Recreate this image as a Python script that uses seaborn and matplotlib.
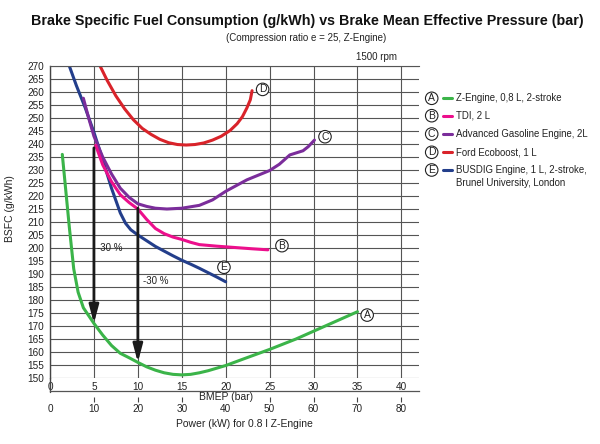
import numpy as np
import pandas as pd
import matplotlib
matplotlib.use("Agg")
import matplotlib.pyplot as plt
import seaborn as sns
from matplotlib.lines import Line2D

# ---------------- data ----------------
bmep_A = [1.4, 1.8, 2.2, 2.7, 3.2, 3.8, 4.4, 5.0, 6.0, 7.0, 8.0, 9.0, 10.0, 11.0, 12.0, 13.0, 14.0,
          15.0, 16.0, 17.0, 18.0, 20.0, 22.0, 25.0, 28.0, 30.0, 32.0, 35.0]
bsfc_A = [236, 222, 208, 192, 183, 177, 174, 171, 166.5, 162.5, 159.5, 157.8, 156, 154.3, 153, 152,
          151.4, 151.2, 151.4, 152, 152.8, 154.8, 157.3, 161, 165, 168, 171, 175.5]

bmep_B = [5.2, 6.0, 7.0, 8.0, 9.0, 10.0, 11.0, 12.0, 13.0, 14.0, 15.0, 16.0, 17.0, 19.0, 21.0, 23.0, 24.8]
bsfc_B = [239.5, 232, 225.5, 220.5, 217.5, 215, 211, 207.5, 205.5, 204.2, 203.3, 202.2, 201.3,
          200.7, 200.2, 199.7, 199.3]

bmep_C = [3.8, 4.4, 5.0, 6.0, 7.0, 8.0, 9.0, 10.0, 11.0, 12.0, 13.3, 15.0, 17.0, 18.5, 20.0, 22.4,
          25.0, 26.1, 27.3, 28.8, 29.4, 30.1]
bsfc_C = [257.6, 250, 243, 235, 228.5, 223, 219.5, 217, 216, 215.3, 215, 215.3, 216.4, 218.5, 221.8,
          226.2, 229.8, 232.2, 235.8, 237.4, 239, 241.5]

bmep_D = [5.7, 6.5, 7.5, 8.5, 9.5, 10.5, 11.5, 12.5, 13.5, 14.5, 15.5, 16.5, 17.5, 18.5, 19.5, 20.5,
          21.3, 21.9, 22.4, 22.8, 23.0]
bsfc_D = [270, 264.5, 258.5, 253.5, 249.3, 246, 243.7, 241.8, 240.5, 239.8, 239.6, 239.8, 240.4,
          241.5, 243, 245.2, 247.8, 250.5, 253.8, 257, 260.5]

bmep_E = [2.2, 3.0, 4.0, 5.0, 6.0, 7.0, 8.0, 8.6, 9.2, 10.0, 11.0, 12.0, 13.0, 14.0, 15.0, 16.0,
          17.0, 18.0, 19.0, 20.0]
bsfc_E = [270, 262.5, 254, 244.5, 234, 223, 213.5, 209.5, 207, 205, 202.8, 200.6, 198.8, 197,
          195.3, 193.8, 192.2, 190.5, 188.8, 187]

engine_keys = ["A", "B", "C", "D", "E"]
engine_names = ["Z-Engine, 0,8 L, 2-stroke", "TDI, 2 L", "Advanced Gasoline Engine, 2L",
                "Ford Ecoboost, 1 L", "BUSDIG Engine, 1 L, 2-stroke,\nBrunel University, London"]
engine_colors = ["#3BB449", "#EC0F8C", "#7B2D9B", "#D9232A", "#233E8B"]
label_pos_x = [36.1, 26.4, 31.3, 24.2, 19.8]
label_pos_y = [174.2, 200.9, 242.8, 261.0, 192.6]

arrow_x = [5, 10]
arrow_from = [238.5, 215.3]
arrow_to = [171, 156]
arrow_text = ["-30 %", "-30 %"]
arrow_text_x = [5.3, 10.6]
arrow_text_y = [200.0, 187.4]

bmep_ticks = list(range(0, 41, 5))
power_ticks = list(range(0, 81, 10))
bsfc_ticks = list(range(150, 271, 5))

# ---------------- figure ----------------
sns.set_theme(style="white")
plt.rcParams["font.family"] = ["Liberation Sans", "DejaVu Sans"]
TXT = "#222222"
GRID = "#555555"

fig = plt.figure(figsize=(6.0, 4.44), dpi=100)
ax = fig.add_axes([50 / 600, (444 - 378) / 444, 369 / 600, 312 / 444])

frames = []
for k, xs, ys in zip(engine_keys, [bmep_A, bmep_B, bmep_C, bmep_D, bmep_E],
                     [bsfc_A, bsfc_B, bsfc_C, bsfc_D, bsfc_E]):
    frames.append(pd.DataFrame({"engine": k, "bmep": xs, "bsfc": ys}))
df = pd.concat(frames, ignore_index=True)
palette = dict(zip(engine_keys, engine_colors))

sns.lineplot(data=df, x="bmep", y="bsfc", hue="engine", hue_order=["A", "E", "C", "B", "D"],
             palette=palette, sort=False, estimator=None, linewidth=2.2, legend=False, ax=ax)

ax.set_xlim(0, 42)
ax.set_ylim(150, 270)
ax.set_xticks(bmep_ticks)
ax.set_xticklabels([str(t) for t in bmep_ticks])
ax.set_yticks(bsfc_ticks)
ax.grid(True, color=GRID, lw=0.8)
ax.set_axisbelow(True)

ax.spines["right"].set_visible(False)
ax.spines["top"].set_color(GRID)
ax.spines["top"].set_linewidth(0.8)
ax.spines["left"].set_color("#444444")
ax.spines["left"].set_linewidth(1.0)
ax.spines["bottom"].set_position(("outward", 9.4))
ax.spines["bottom"].set_color(GRID)
ax.spines["bottom"].set_linewidth(0.9)
ax.plot([0, 0], [0, -13.5 / 312], transform=ax.transAxes, color="#444444", lw=1.0, clip_on=False)

ax.tick_params(axis="y", length=0, pad=4, labelsize=7.2, labelcolor=TXT)
ax.tick_params(axis="x", direction="in", length=0, pad=-6.3, labelsize=7.2, labelcolor=TXT)

ax.set_xlabel("BMEP (bar)", fontsize=7.5, color=TXT)
ax.xaxis.set_label_coords((226 - 50) / 369, -(397 - 378) / 312)
ax.xaxis.label.set_va("center")
ax.set_ylabel("BSFC (g/kWh)", fontsize=7.5, color=TXT)
ax.yaxis.set_label_coords(-40 / 369, (378 - 209) / 312)
ax.yaxis.label.set_va("center")

sec = ax.secondary_xaxis(-(396.5 - 378) / 312, functions=(lambda x: x * 2, lambda x: x / 2))
sec.set_xticks(power_ticks)
sec.set_xticklabels([str(t) for t in power_ticks])
sec.tick_params(direction="out", length=3.6, width=0.8, pad=1.6, labelsize=7.2,
                color="#444444", labelcolor=TXT)
for s in sec.spines.values():
    s.set_visible(False)
mt = sec.xaxis.get_major_ticks()
mt[0].tick1line.set_visible(False)
mt[4].tick1line.set_visible(False)
sec.set_xlabel("Power (kW) for 0.8 l Z-Engine", fontsize=7.5, color=TXT)
sec.xaxis.set_label_coords((244 - 50) / 369, -(424 - 378) / 312, transform=ax.transAxes)
sec.xaxis.label.set_va("center")

# arrows and -30 % texts
for xa, y0, y1 in zip(arrow_x, arrow_from, arrow_to):
    ax.annotate("", xy=(xa, y1), xytext=(xa, y0),
                arrowprops=dict(arrowstyle="-|>,head_length=0.9,head_width=0.24", lw=2.0,
                                color="#1a1a1a", mutation_scale=12, shrinkA=0, shrinkB=0))
for s, xt, yt in zip(arrow_text, arrow_text_x, arrow_text_y):
    ax.text(xt, yt, s, fontsize=7, color=TXT, ha="left", va="center")

circ = dict(boxstyle="circle,pad=0.12", fc="white", ec="#222222", lw=0.8)
for k, lx, ly in zip(engine_keys, label_pos_x, label_pos_y):
    ax.text(lx, ly, k, fontsize=7.5, color=TXT, ha="center", va="center", bbox=circ)

# titles
fig.text(307 / 600, 1 - 21 / 444,
         "Brake Specific Fuel Consumption (g/kWh) vs Brake Mean Effective Pressure (bar)",
         fontsize=10.3, weight="bold", color="#111111", ha="center", va="center")
fig.text(306.5 / 600, 1 - 38 / 444, "(Compression ratio e = 25, Z-Engine)",
         fontsize=7, color=TXT, ha="center", va="center")
fig.text(377 / 600, 1 - 57 / 444, "1500 rpm", fontsize=7, color=TXT, ha="center", va="center")

# legend
leg_y = [98.3, 115.7, 134.0, 152.3, 170.0]
for k, name, col, py in zip(engine_keys, engine_names, engine_colors, leg_y):
    fy = 1 - py / 444
    fig.text(431.7 / 600, fy, k, fontsize=7.5, color=TXT, ha="center", va="center", bbox=circ)
    fig.add_artist(Line2D([443 / 600, 452 / 600], [fy, fy], color=col, lw=2.2,
                          transform=fig.transFigure))
    fig.text(456 / 600, 1 - (py - 5.2) / 444, name, fontsize=6.9, color=TXT, ha="left",
             va="top", linespacing=1.45)

fig.savefig("out.png", dpi=100)
